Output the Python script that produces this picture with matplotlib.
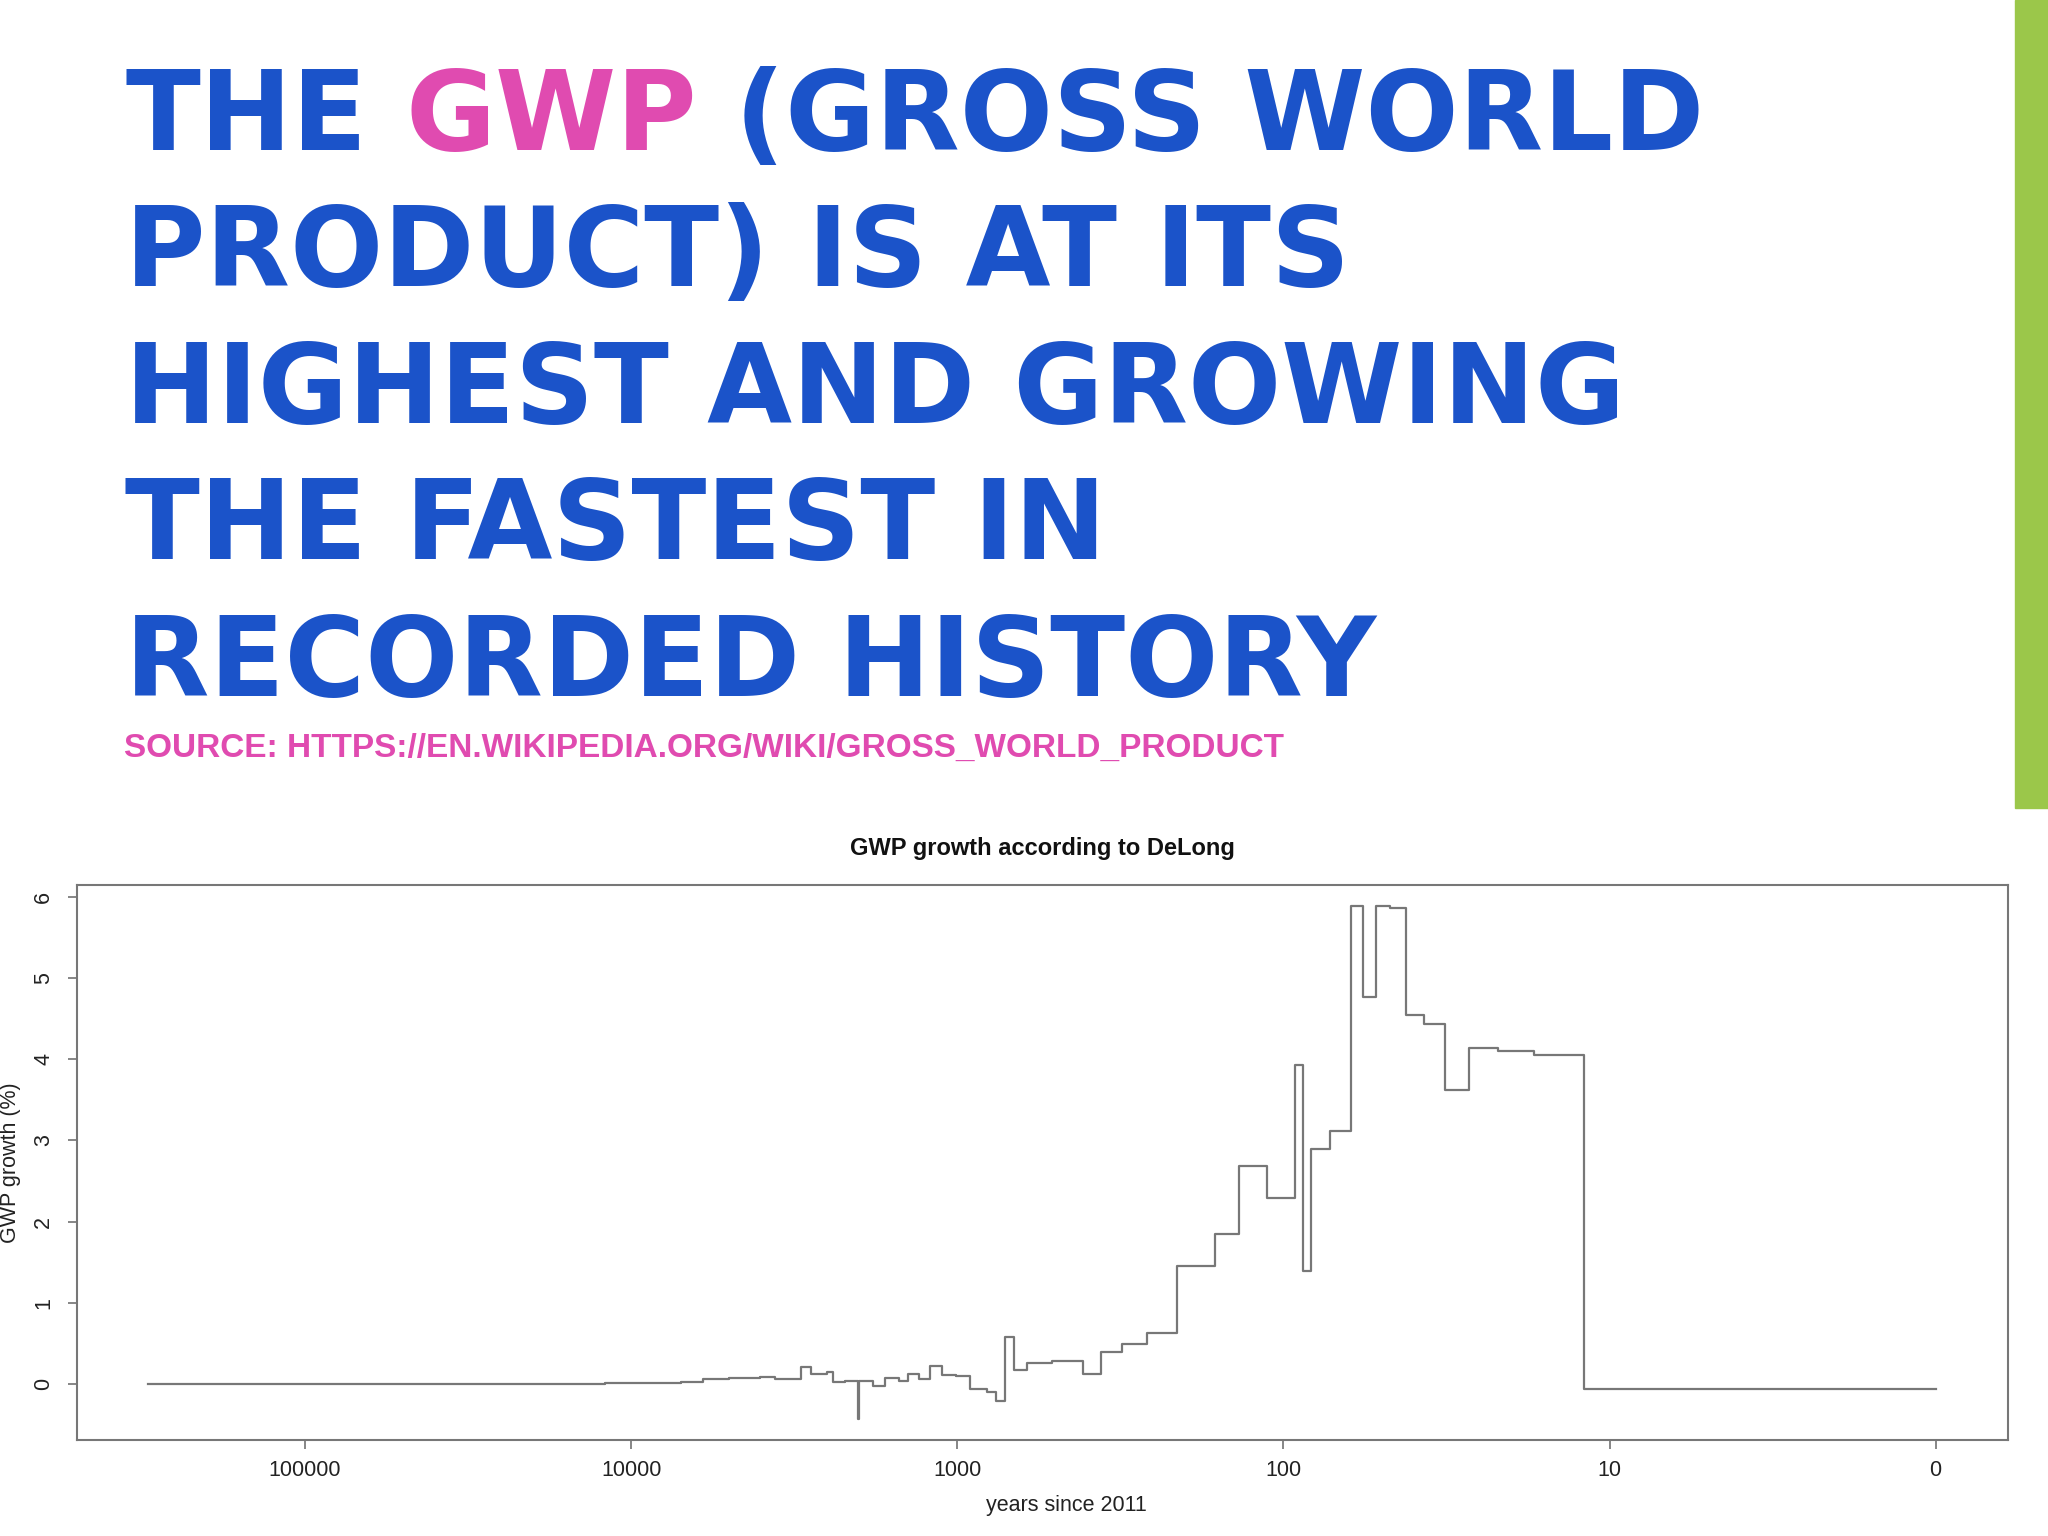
import numpy as np
import matplotlib.pyplot as plt
from matplotlib.patches import Rectangle

# GWP growth (%) per interval
start_years = [-300000, -25000, -10000, -5000, -4000, -3000, -2000, -1600,
               -1000, -800, -500, -400, -200, 1, 14, 200, 350, 400, 500,
               600, 700, 800, 900, 1000, 1100, 1200, 1250, 1300, 1340,
               1400, 1500, 1600, 1650, 1700, 1750, 1800, 1850, 1875, 1900,
               1920, 1925, 1930, 1940, 1950, 1955, 1960, 1965, 1970, 1975,
               1980, 1985, 1990, 1995, 2000]
end_year = 2011
growth = [0.0, 0.004, 0.01, 0.03, 0.07, 0.075, 0.09, 0.06,
          0.21, 0.12, 0.145, 0.03, 0.035, -0.43, 0.038, -0.023, 0.08, 0.08, 0.045,
          0.12, 0.07, 0.23, 0.11, 0.10, -0.055, -0.10, -0.21, 0.58, 0.18,
          0.265, 0.28, 0.12, 0.40, 0.50, 0.625, 1.45, 1.85, 2.69, 2.29,
          3.93, 1.39, 2.90, 3.12, 5.88, 4.77, 5.89, 5.86, 4.54, 4.43,
          3.62, 4.14, 4.10, 4.05, -0.06]

x_ticks = [100000, 10000, 1000, 100, 10, 1]
x_tick_labels = ['100000', '10000', '1000', '100', '10', '0']
y_ticks = [0, 1, 2, 3, 4, 5, 6]

headline = [
    [("THE", 'blue'), ("GWP", 'pink'), ("(GROSS WORLD", 'blue')],
    [("PRODUCT) IS AT ITS", 'blue')],
    [("HIGHEST AND GROWING", 'blue')],
    [("THE FASTEST IN", 'blue')],
    [("RECORDED HISTORY", 'blue')],
]
source = "SOURCE: HTTPS://EN.WIKIPEDIA.ORG/WIKI/GROSS_WORLD_PRODUCT"

BLUE = '#1b53c9'
PINK = '#e04bb0'
GREEN = '#9bc74a'
LINE = '#777777'

W, H = 2048, 1536
fig = plt.figure(figsize=(W / 100, H / 100), dpi=100)
fig.patch.set_facecolor('white')


def fx(x):
    return x / W


def fy(y):
    # y measured from the top in pixels
    return 1 - y / H


# green strip on the right edge
fig.patches.append(Rectangle((fx(2015), fy(808)), 33 / W, 808 / H,
                             transform=fig.transFigure, color=GREEN, zorder=0))

# headline, drawn piece by piece so GWP can be pink
renderer = fig.canvas.get_renderer()
head_font = dict(family=['DejaVu Sans'], weight='bold', size=79)
space = (fig.text(0, 0, "A A", **head_font).get_window_extent(renderer).width
         - fig.text(0, 0, "AA", **head_font).get_window_extent(renderer).width)
for t in fig.texts[:]:
    t.remove()

baselines = [150, 286, 423, 559, 696]
for parts, base in zip(headline, baselines):
    x = 125
    for word, col in parts:
        t = fig.text(fx(x), fy(base), word, color=BLUE if col == 'blue' else PINK,
                     va='baseline', ha='left', **head_font)
        x += t.get_window_extent(renderer).width + space

fig.text(fx(124), fy(757), source, color=PINK, va='baseline', ha='left',
         family=['Liberation Sans', 'DejaVu Sans'], weight='bold', size=24)

# the chart itself
ax = fig.add_axes([fx(77), fy(1440), 1931 / W, 555 / H])
xs = 2012 - np.array(start_years + [end_year])
ys = np.array(growth + [growth[-1]])
ax.step(xs, ys, where='post', color=LINE, lw=1.6)

ax.set_xscale('log')
ax.set_xlim(5.0e5, 0.6)
ax.set_ylim(-0.686, 6.143)
ax.set_xticks(x_ticks)
ax.set_xticklabels(x_tick_labels)
ax.minorticks_off()
ax.set_yticks(y_ticks)
ax.set_yticklabels([str(v) for v in y_ticks], rotation=90, va='center')

tick_font = dict(family=['Liberation Sans', 'DejaVu Sans'], size=15.5, color='#222222')
for lab in ax.get_xticklabels() + ax.get_yticklabels():
    lab.set(**tick_font)
ax.tick_params(axis='both', length=6.5, width=1.1, color='#666666', direction='out')
ax.tick_params(axis='x', pad=8)
ax.tick_params(axis='y', pad=10)

for s in ax.spines.values():
    s.set_color('#777777')
    s.set_linewidth(1.5)

ax.set_title("GWP growth according to DeLong", family=['Liberation Sans', 'DejaVu Sans'],
             weight='bold', size=17, color='#111111', pad=21.5)
ax.set_xlabel("years since 2011", **tick_font)
ax.xaxis.set_label_coords(0.5124, -0.100)
ax.set_ylabel("GWP growth (%)", **tick_font)
ax.yaxis.set_label_coords(-0.029, 0.5)

fig.savefig('out.png', dpi=100, facecolor='white')
